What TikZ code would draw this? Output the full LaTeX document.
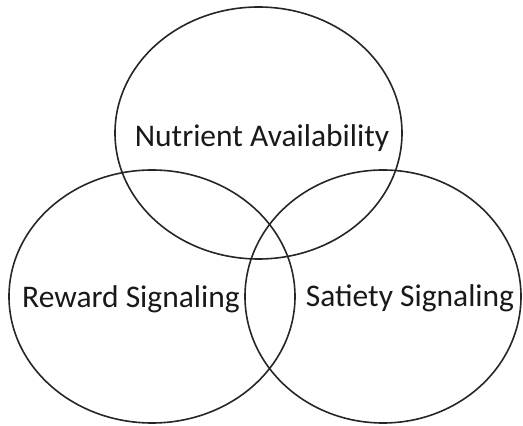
\documentclass[tikz,border=0pt]{standalone}
\usepackage{fontspec}
\setmainfont{Carlito}
\usepackage{xcolor}
\usepackage{tikz}
\usetikzlibrary{shapes.geometric,positioning}

\begin{document}
\begin{tikzpicture}[
        x=1pt, y=1pt,
        set/.style={ellipse, draw=black!85, line width=1.6pt, inner sep=0pt},
        setlabel/.style={font=\fontsize{31.5}{38}\selectfont, text=black!90, anchor=base, inner sep=0pt}
    ]
        \useasboundingbox (0,0) rectangle (523,426);
        % Sets
        \node[set, minimum width=287pt, minimum height=252pt] (nutrient) at (258.5,293) {};
        \node[set, minimum width=286pt, minimum height=253pt] (reward) at (152,129.5) {};
        \node[set, minimum width=276pt, minimum height=253pt] (satiety) at (383,129.5) {};
        
        % Labels
        \node[setlabel] (nutrientlabel) at (262,279) {Nutrient Availability};
        \node[setlabel] (rewardlabel) at (131,118) {Reward Signaling};
        \node[setlabel] (satietylabel) at (410,119) {Satiety Signaling};
    \end{tikzpicture}
\end{document}
